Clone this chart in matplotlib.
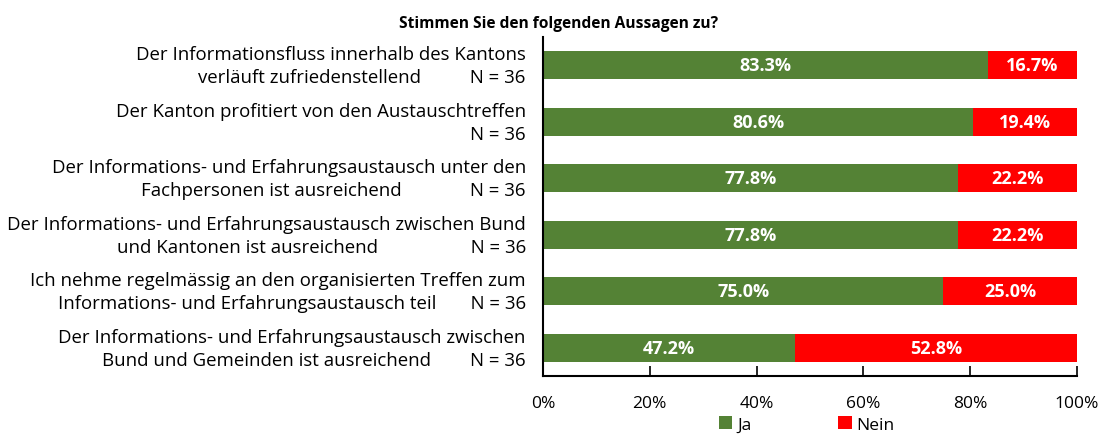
import matplotlib.pyplot as plt

# Umfrage: Anteil Ja / Nein je Aussage
statements = [
    ("Der Informationsfluss innerhalb des Kantons",
     "verläuft zufriedenstellend          N = 36"),
    ("Der Kanton profitiert von den Austauschtreffen",
     "N = 36"),
    ("Der Informations- und Erfahrungsaustausch unter den",
     "Fachpersonen ist ausreichend              N = 36"),
    ("Der Informations- und Erfahrungsaustausch zwischen Bund",
     "und Kantonen ist ausreichend                   N = 36"),
    ("Ich nehme regelmässig an den organisierten Treffen zum",
     "Informations- und Erfahrungsaustausch teil       N = 36"),
    ("Der Informations- und Erfahrungsaustausch zwischen",
     "Bund und Gemeinden ist ausreichend        N = 36"),
]
ja = [83.3, 80.6, 77.8, 77.8, 75.0, 47.2]
nein = [16.7, 19.4, 22.2, 22.2, 25.0, 52.8]

GREEN = "#548235"
RED = "#FF0000"

plt.rcParams['font.family'] = ['Open Sans', 'DejaVu Sans']

fig = plt.figure(figsize=(11.04, 4.35), dpi=100)
ax = fig.add_axes([0.4918, 0.1333, 0.4837, 0.7793])

y = list(range(len(ja)))[::-1]
ax.barh(y, ja, height=0.5, color=GREEN, label="Ja")
ax.barh(y, nein, left=ja, height=0.5, color=RED, label="Nein")

for yi, a, b in zip(y, ja, nein):
    ax.text(a / 2, yi, f"{a:.1f}%", ha="center", va="center",
            color="white", fontweight="bold", fontsize=13)
    ax.text(a + b / 2, yi, f"{b:.1f}%", ha="center", va="center",
            color="white", fontweight="bold", fontsize=13)

ax.set_xlim(0, 100)
ax.set_ylim(-0.5, len(ja) - 0.5)
ax.set_xticks([0, 20, 40, 60, 80, 100])
ax.set_xticklabels([f"{v}%" for v in [0, 20, 40, 60, 80, 100]], fontsize=12.5)
ax.tick_params(axis="x", direction="in", length=7, width=1.2, pad=14)
ax.set_yticks([])
for s in ["top", "right"]:
    ax.spines[s].set_visible(False)
for s in ["left", "bottom"]:
    ax.spines[s].set_linewidth(1.5)

# Beschriftungen links
for yi, (l1, l2) in zip(y, statements):
    ax.text(-0.032, yi - 0.01, l1 + "\n" + l2, transform=ax.get_yaxis_transform(),
            ha="right", va="center", multialignment="right",
            fontsize=13.4, linespacing=1.38)

fig.text(0.506, 0.945, "Stimmen Sie den folgenden Aussagen zu?",
         ha="center", va="center", fontweight="bold", fontsize=11.2)

fig.legend(loc="center", bbox_to_anchor=(0.731, 0.022), ncol=2,
           frameon=False, fontsize=12.5, handlelength=0.75, handleheight=0.75,
           columnspacing=5.0, handletextpad=0.3, borderpad=0.1)

fig.savefig("out.png", dpi=100)
